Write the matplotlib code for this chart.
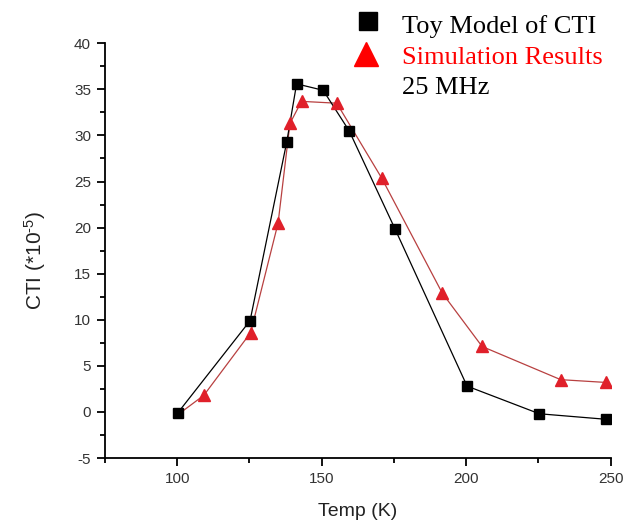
import matplotlib
matplotlib.use("Agg")
import matplotlib.pyplot as plt
from matplotlib.ticker import MultipleLocator

plt.rcParams["axes.unicode_minus"] = False
plt.rcParams["mathtext.fontset"] = "custom"
plt.rcParams["mathtext.rm"] = "Liberation Sans"
plt.rcParams["mathtext.it"] = "Liberation Sans"
plt.rcParams["mathtext.sf"] = "Liberation Sans"

# Data
toy_temp = [100.2, 125.2, 137.9, 141.3, 150.5, 159.5, 175.3, 200.3, 225.3, 248.4]
toy_cti = [-0.1, 9.9, 29.3, 35.6, 34.9, 30.5, 19.9, 2.8, -0.2, -0.8]

sim_temp = [100.2, 109.2, 125.4, 134.9, 139.0, 143.0, 155.2, 170.7, 191.7, 205.5, 232.7, 248.3]
sim_cti = [-0.3, 1.8, 8.6, 20.5, 31.3, 33.7, 33.5, 25.4, 12.9, 7.1, 3.5, 3.2]

x_ticks = [100, 150, 200, 250]
y_ticks = [-5, 0, 5, 10, 15, 20, 25, 30, 35, 40]

legend_labels = ["Toy Model of CTI", "Simulation Results", "25 MHz"]

W, H = 626, 523
fig = plt.figure(figsize=(W / 100, H / 100), dpi=100)
ax = fig.add_axes([105 / W, 1 - 458 / H, (610.7 - 105) / W, (458 - 43.3) / H])

ax.plot(toy_temp, toy_cti, color="black", lw=0.9, marker="s", ms=7.5,
        mfc="black", mec="black", zorder=3)
ax.plot(sim_temp[1:], sim_cti[1:], color="none", lw=0, marker="^", ms=9,
        mfc="#e0202a", mec="#e0202a", zorder=4)
ax.plot(sim_temp, sim_cti, color="#b84040", lw=0.9, zorder=2)

ax.set_xlim(75, 250)
ax.set_ylim(-5, 40)
ax.set_xticks(x_ticks)
ax.set_yticks(y_ticks)
ax.xaxis.set_minor_locator(MultipleLocator(25))
ax.yaxis.set_minor_locator(MultipleLocator(2.5))

for s in ["top", "right"]:
    ax.spines[s].set_visible(False)
for s in ["left", "bottom"]:
    ax.spines[s].set_linewidth(1.3)

ax.tick_params(which="major", direction="out", length=6, width=1.3,
               labelsize=11, labelcolor="#333333", pad=4)
ax.tick_params(which="minor", direction="out", length=3.5, width=1.3)
for lab in ax.get_xticklabels() + ax.get_yticklabels():
    lab.set_family("Liberation Sans")

ax.set_xlabel("Temp (K)", fontsize=14, family="Liberation Sans", color="#222222", labelpad=12)
ax.set_ylabel(r"CTI (*10$^{\text{-5}}$)", fontsize=15, family="Liberation Sans",
              color="#222222")
ax.yaxis.set_label_coords(-0.113, 0.477)

# Legend (manual, in figure coordinates)
fig.lines.append(plt.Line2D([367.5 / W], [1 - 21 / H], transform=fig.transFigure,
                            marker="s", ms=13.5, color="black", lw=0))
fig.lines.append(plt.Line2D([366 / W], [1 - 54 / H], transform=fig.transFigure,
                            marker="^", ms=17, color="#ff0000", lw=0))
colors = ["black", "#ff0000", "black"]
baselines = [32.5, 63.5, 93.5]
for lab, c, b in zip(legend_labels, colors, baselines):
    fig.text(402 / W, 1 - b / H, lab, fontsize=19, family="Liberation Serif",
             color=c, va="baseline", ha="left")

fig.savefig("out.png", dpi=100)
